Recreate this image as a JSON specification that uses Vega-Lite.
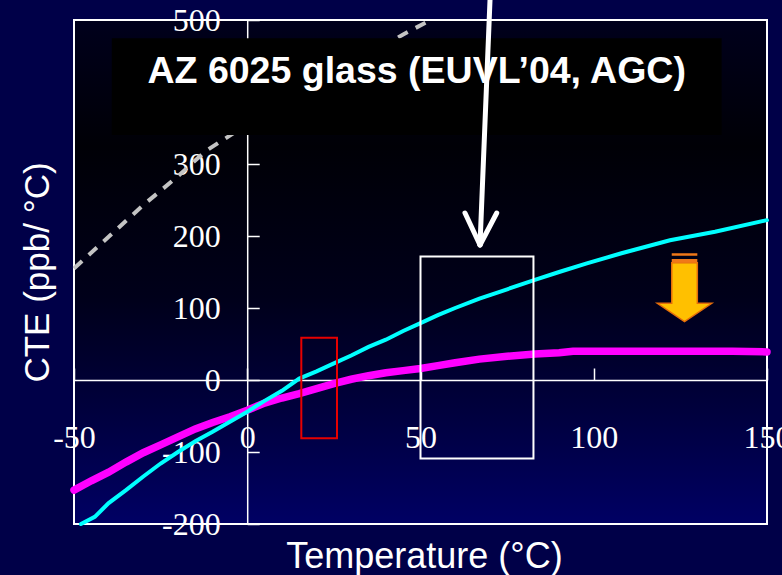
{
  "$schema": "https://vega.github.io/schema/vega-lite/v6.json",
  "width": 693,
  "height": 504,
  "autosize": {"type": "none"},
  "padding": {"left": 74, "top": 20, "right": 15, "bottom": 51},
  "background": "#000048",
  "config": {
    "view": {
      "stroke": "#ffffff",
      "strokeWidth": 2,
      "fill": {
        "gradient": "linear", "x1": 0, "y1": 0, "x2": 0, "y2": 1,
        "stops": [
          {"offset": 0, "color": "#00001c"},
          {"offset": 0.25, "color": "#000006"},
          {"offset": 0.55, "color": "#00001a"},
          {"offset": 0.78, "color": "#00003e"},
          {"offset": 1, "color": "#000064"}
        ]
      }
    }
  },
  "encoding": {
    "x": {
      "field": "x", "type": "quantitative",
      "scale": {"domain": [-50, 150], "nice": false, "zero": false},
      "axis": {
        "title": "Temperature (°C)", "orient": "bottom", "offset": -144,
        "values": [-50, 0, 50, 100, 150], "grid": false,
        "labelExpr": "'' + datum.value",
        "domain": true, "domainColor": "#ffffff", "domainWidth": 1.5,
        "ticks": true, "tickColor": "#ffffff", "tickWidth": 1.5, "tickSize": -12,
        "labelPadding": 79, "labelBaseline": "alphabetic", "labelFont": "Liberation Serif",
        "labelFontSize": 32, "labelColor": "#ffffff", "labelFlush": false, "labelOverlap": false,
        "titleFont": "Liberation Sans", "titleFontSize": 36, "titleFontWeight": "normal",
        "titleColor": "#ffffff", "titleX": 350, "titleY": 187, "titleBaseline": "alphabetic",
        "titleAlign": "center"
      }
    },
    "y": {
      "field": "y", "type": "quantitative",
      "scale": {"domain": [-200, 500], "nice": false, "zero": false},
      "axis": {
        "title": "CTE (ppb/ °C)", "orient": "left", "offset": -173.2,
        "values": [-200, -100, 0, 100, 200, 300, 500], "grid": false,
        "labelExpr": "'' + datum.value",
        "domain": true, "domainColor": "#ffffff", "domainWidth": 1.5,
        "ticks": true, "tickColor": "#ffffff", "tickWidth": 1.5, "tickSize": -12,
        "labelPadding": 39, "labelBaseline": "middle", "labelAlign": "right",
        "labelFont": "Liberation Serif", "labelFontSize": 32, "labelColor": "#ffffff",
        "labelOverlap": false, "labelFlush": false,
        "titleFont": "Liberation Sans", "titleFontSize": 35, "titleFontWeight": "normal",
        "titleColor": "#ffffff", "titleX": -199, "titleY": 252, "titleAngle": -90,
        "titleBaseline": "alphabetic", "titleAlign": "center"
      }
    }
  },
  "layer": [
    {
      "data": {"values": [
        {"x": -50, "y": 155}, {"x": -40, "y": 199}, {"x": -30, "y": 243}, {"x": -20, "y": 283},
        {"x": -12, "y": 318}, {"x": 0, "y": 355}, {"x": 10, "y": 385}, {"x": 20, "y": 413},
        {"x": 30, "y": 440}, {"x": 40, "y": 466}, {"x": 45, "y": 480}, {"x": 53, "y": 500}
      ]},
      "mark": {"type": "line", "color": "#c4c4c4", "strokeWidth": 4, "strokeDash": [11, 9]}
    },
    {
      "data": {"values": [{"x": -39.1, "x2": 136.9, "y": 340.3, "y2": 474.6}]},
      "mark": {"type": "rect", "fill": "#000000"},
      "encoding": {
        "x2": {"field": "x2"},
        "y2": {"field": "y2"}
      }
    },
    {
      "data": {"values": [{"x": 48.9, "y": 412.5, "label": "AZ 6025 glass (EUVL’04, AGC)"}]},
      "mark": {"type": "text", "font": "Liberation Sans", "fontWeight": "bold", "fontSize": 37.5, "color": "#ffffff", "align": "center", "baseline": "alphabetic"},
      "encoding": {
        "text": {"field": "label"}
      }
    },
    {
      "data": {"values": [
        {"x": -50, "y": -153}, {"x": -45, "y": -140}, {"x": -40, "y": -128}, {"x": -35, "y": -114},
        {"x": -30, "y": -101}, {"x": -25, "y": -90}, {"x": -20, "y": -79}, {"x": -15, "y": -68},
        {"x": -10, "y": -59}, {"x": -5, "y": -51}, {"x": 0, "y": -42}, {"x": 5, "y": -32},
        {"x": 10, "y": -25}, {"x": 15, "y": -19}, {"x": 20, "y": -12}, {"x": 25, "y": -5},
        {"x": 30, "y": 1}, {"x": 35, "y": 6}, {"x": 40, "y": 10}, {"x": 45, "y": 13},
        {"x": 50, "y": 16}, {"x": 55, "y": 20}, {"x": 60, "y": 24}, {"x": 67, "y": 29},
        {"x": 75, "y": 33}, {"x": 83, "y": 36}, {"x": 90, "y": 38}, {"x": 94, "y": 40},
        {"x": 100, "y": 40}, {"x": 110, "y": 40}, {"x": 120, "y": 40}, {"x": 130, "y": 40},
        {"x": 140, "y": 40}, {"x": 150, "y": 39}
      ]},
      "mark": {"type": "line", "color": "#ff00ff", "strokeWidth": 7.5, "strokeCap": "round"}
    },
    {
      "data": {"values": [
        {"x": -48, "y": -200}, {"x": -44, "y": -190}, {"x": -40, "y": -171}, {"x": -35, "y": -153},
        {"x": -30, "y": -134}, {"x": -25, "y": -116}, {"x": -20, "y": -100}, {"x": -15, "y": -85},
        {"x": -10, "y": -72}, {"x": -5, "y": -58}, {"x": 0, "y": -44}, {"x": 5, "y": -29},
        {"x": 10, "y": -15}, {"x": 15, "y": 2}, {"x": 20, "y": 12}, {"x": 25, "y": 23},
        {"x": 30, "y": 34}, {"x": 35, "y": 46}, {"x": 40, "y": 56}, {"x": 45, "y": 68},
        {"x": 50, "y": 79}, {"x": 55, "y": 90}, {"x": 60, "y": 100}, {"x": 67, "y": 113},
        {"x": 75, "y": 126}, {"x": 83, "y": 139}, {"x": 90, "y": 150}, {"x": 98, "y": 162},
        {"x": 108, "y": 176}, {"x": 115, "y": 185}, {"x": 122, "y": 194}, {"x": 135, "y": 206},
        {"x": 150, "y": 222}
      ]},
      "mark": {"type": "line", "color": "#00ffff", "strokeWidth": 4, "strokeCap": "round"}
    },
    {
      "data": {"values": [
        {"x": 50, "x2": 82.6, "y": -109, "y2": 171.4, "c": "white"},
        {"x": 15.6, "x2": 25.9, "y": -81, "y2": 58.8, "c": "red"}
      ]},
      "mark": {"type": "rect", "filled": false, "strokeWidth": 2},
      "encoding": {
        "x2": {"field": "x2"},
        "y2": {"field": "y2"},
        "stroke": {"field": "c", "type": "nominal", "scale": {"domain": ["white", "red"], "range": ["#ffffff", "#e60000"]}, "legend": null}
      }
    },
    {
      "data": {"values": [
        {"x": 70.06, "y": 527.8, "x2": 67.17, "y2": 187.5},
        {"x": 62.84, "y": 231.9, "x2": 67.17, "y2": 187.5},
        {"x": 72.0, "y": 231.9, "x2": 67.17, "y2": 187.5}
      ]},
      "mark": {"type": "rule", "color": "#ffffff", "strokeWidth": 5, "strokeCap": "round"},
      "encoding": {
        "x2": {"field": "x2"},
        "y2": {"field": "y2"}
      }
    },
    {
      "data": {"values": [{"x": 126.2, "y": 128.5}]},
      "mark": {"type": "point", "filled": true, "size": 3025, "opacity": 1, "fill": "#ffc000", "stroke": "#e46c0a", "strokeWidth": 1.5,
        "shape": "M-0.465,-0.9L0.465,-0.9L0.465,0.575L0.99,0.575L0,1.244L-0.99,0.575L-0.465,0.575Z"}
    },
    {
      "data": {"values": [{"x": 126.2, "y": 128.5}]},
      "mark": {"type": "point", "filled": true, "size": 3025, "opacity": 1, "fill": "#f07818", "strokeWidth": 0,
        "shape": "M-0.465,-1.244L0.465,-1.244L0.465,-1.156L-0.465,-1.156Z M-0.465,-1.036L0.465,-1.036L0.465,-0.902L-0.465,-0.902Z"}
    }
  ]
}
